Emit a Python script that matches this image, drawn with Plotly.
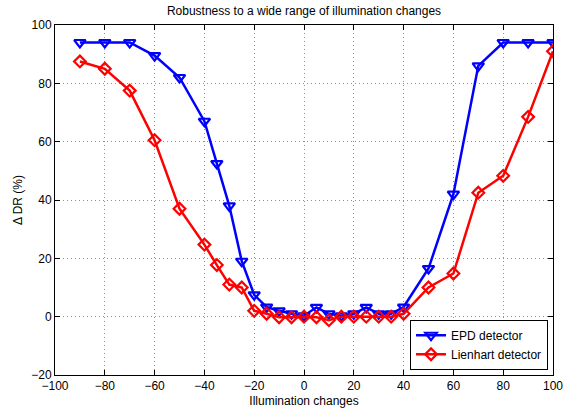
import plotly.graph_objects as go

x_vals = [-90, -80, -70, -60, -50, -40, -35, -30, -25, -20, -15, -10, -5, 0, 5, 10,
          15, 20, 25, 30, 35, 40, 50, 60, 70, 80, 90, 100]
epd = [94, 94, 94, 89.5, 82, 67, 52.5, 38, 19, 7.5, 3.3, 2, 1, 0.3, 3.2, 1,
       0.3, 1, 3.2, 1, 1, 3.3, 16.5, 42, 86, 94, 94, 94]
lienhart = [87.5, 85, 77.5, 60.5, 37, 24.7, 17.7, 11, 10, 2, 1, -0.2, -0.2, 0, -0.2, -1.2,
            0, 0, 0, 0, 0, 1, 10, 14.8, 42.5, 48.3, 68.5, 91]

FAM = "Liberation Sans, Arial, sans-serif"
font = dict(family=FAM, size=12, color="black")

fig = go.Figure()
fig.add_trace(go.Scatter(
    x=x_vals, y=epd, mode="lines+markers", name="EPD detector",
    line=dict(color="#0000ff", width=2.5),
    marker=dict(symbol="triangle-down-open", size=10, color="#0000ff",
                line=dict(width=2.2, color="#0000ff")),
))
fig.add_trace(go.Scatter(
    x=x_vals, y=lienhart, mode="lines+markers", name="Lienhart detector",
    line=dict(color="#ff0000", width=2.5),
    marker=dict(symbol="diamond-open", size=9, color="#ff0000",
                line=dict(width=2.2, color="#ff0000")),
))

axis_common = dict(
    showline=True, linecolor="black", linewidth=1, mirror="ticks",
    ticks="inside", ticklen=5, tickcolor="black",
    showgrid=True, gridcolor="#909090", griddash="1px,3px", gridwidth=1,
    zeroline=False, tickfont=font, ticklabeloverflow="allow", automargin=False,
)

fig.update_layout(
    width=564, height=412,
    margin=dict(l=55, r=11, t=25, b=37),
    paper_bgcolor="white", plot_bgcolor="white",
    font=font,
    title=dict(text="Robustness to a wide range of illumination changes",
               x=0.5, xanchor="center", xref="paper", y=0.985, yanchor="top",
               font=dict(family=FAM, size=12)),
    xaxis=dict(range=[-100, 100], tick0=-100, dtick=20,
               title=dict(text="Illumination changes", standoff=4, font=font),
               **axis_common),
    yaxis=dict(range=[-20, 100], tick0=-20, dtick=20,
               title=dict(text="Δ DR (%)", standoff=6, font=font),
               **axis_common),
    legend=dict(x=0.99, y=0.015, xanchor="right", yanchor="bottom",
                bgcolor="white", bordercolor="black", borderwidth=1,
                font=dict(family=FAM, size=12),
                tracegroupgap=0, itemwidth=30),
    showlegend=True,
)

fig.write_html("out.html")
